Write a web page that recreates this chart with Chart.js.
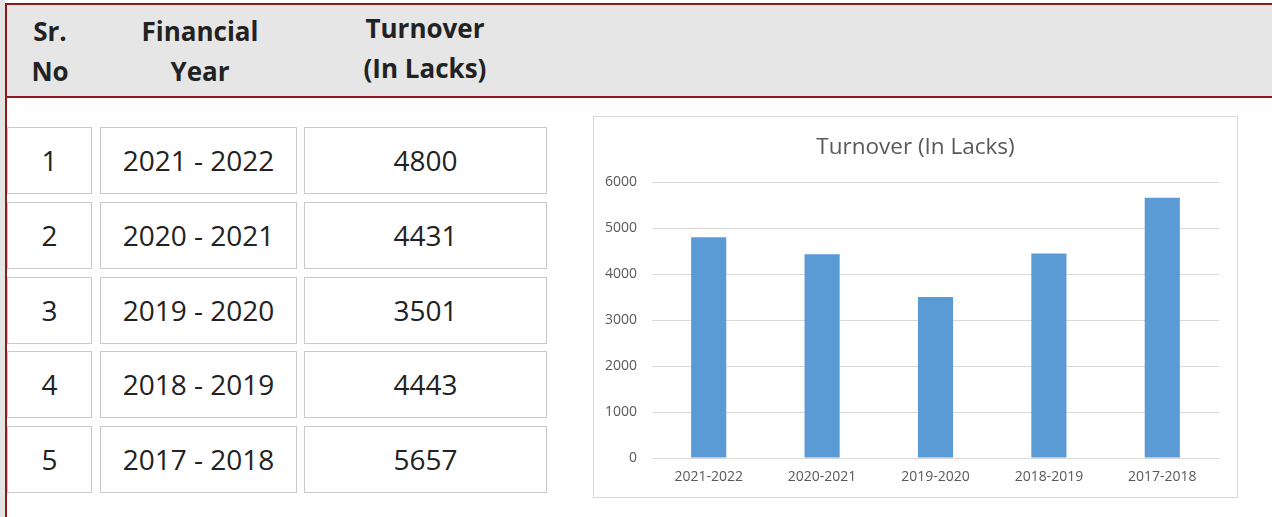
<!DOCTYPE html>
<html>
<head>
<meta charset="utf-8">
<script src="https://cdn.jsdelivr.net/npm/chart.js@4/dist/chart.umd.min.js"></script>
<style>
  html, body { margin: 0; padding: 0; background: #fff; width: 1272px; height: 517px; overflow: hidden; font-family: "Open Sans", sans-serif; }
  #strip { position: absolute; left: 0; top: 0; width: 5px; height: 517px; background: #e4e4e4; }
  #redline { position: absolute; left: 5px; top: 3px; width: 2px; height: 514px; background: #8b1c1c; }
  #header { position: absolute; left: 5px; top: 3px; width: 1267px; height: 91px; background: #e6e6e6; border-top: 2px solid #8b1c1c; border-bottom: 2px solid #8b1c1c; }
  .hd { position: absolute; font-weight: bold; font-size: 26px; line-height: 40px; color: #222; text-align: center; }
  .cell { position: absolute; box-sizing: border-box; border: 1px solid #c9c9c9; height: 67px; line-height: 65px; text-align: center; font-size: 28px; color: #222; background: #fff; }
  #chartBox { position: absolute; left: 593px; top: 116px; width: 643px; height: 380px; border: 1px solid #d9d9d9; background: #fff; }
</style>
</head>
<body>
<div id="strip"></div>
<div id="header"></div>
<div id="redline"></div>
<div class="hd" style="left:10px; top:11px; width:80px;">Sr.<br>No</div>
<div class="hd" style="left:110px; top:11px; width:180px;">Financial<br>Year</div>
<div class="hd" style="left:325px; top:8px; width:200px;">Turnover<br>(In Lacks)</div>
<div id="rows"></div>
<div id="chartBox"><canvas id="turnoverChart"></canvas></div>

<script>
// table + chart data
const srNo = [1, 2, 3, 4, 5];
const finYears = ["2021 - 2022", "2020 - 2021", "2019 - 2020", "2018 - 2019", "2017 - 2018"];
const categories = ["2021-2022", "2020-2021", "2019-2020", "2018-2019", "2017-2018"];
const turnover = [4800, 4431, 3501, 4443, 5657];
const yMin = 0, yMax = 6000, yStep = 1000;

const rowTops = [127, 202, 277, 351, 426];
const cols = [[7, 85], [100, 197], [304, 243]];

let html = "";
srNo.forEach((n, i) => {
  const vals = [n, finYears[i], turnover[i]];
  vals.forEach((v, c) => {
    html += `<div class="cell" style="left:${cols[c][0]}px; top:${rowTops[i]}px; width:${cols[c][1]}px;">${v}</div>`;
  });
});
document.getElementById("rows").innerHTML = html;

const grey = "#595959";
const ctx = document.getElementById("turnoverChart").getContext("2d");
new Chart(ctx, {
  type: "bar",
  data: {
    labels: categories,
    datasets: [{
      label: "Turnover (In Lacks)",
      data: turnover,
      backgroundColor: "#5b9bd5",
      barPercentage: 0.62,
      categoryPercentage: 0.5
    }]
  },
  options: {
    responsive: true,
    maintainAspectRatio: false,
    animation: false,
    layout: { padding: 0 },
    plugins: {
      legend: { display: false },
      tooltip: { enabled: false },
      title: {
        display: true,
        text: "Turnover (In Lacks)",
        color: grey,
        font: { family: "Open Sans", size: 22.5, weight: "normal" },
        padding: { top: 17, bottom: 21 }
      }
    },
    scales: {
      x: {
        grid: { display: false, drawTicks: false },
        border: { display: true, color: "#d9d9d9", width: 1 },
        ticks: { color: grey, font: { family: "Open Sans", size: 14 }, padding: 11, maxRotation: 0 },
        afterFit: (s) => { s.height = 39; }
      },
      y: {
        min: yMin,
        max: yMax,
        ticks: {
          stepSize: yStep, color: grey, font: { family: "Open Sans", size: 14 }, padding: 15,
          callback: (v) => String(v)
        },
        grid: { color: "#d9d9d9", drawTicks: false },
        border: { display: false },
        afterFit: (s) => { s.width = 58; }
      },
      // empty right margin so the title centres on the whole box
      pad: {
        type: "linear",
        position: "right",
        grid: { display: false, drawTicks: false },
        border: { display: false },
        ticks: { display: false },
        afterFit: (s) => { s.width = 18; }
      }
    }
  }
});
</script>
</body>
</html>
